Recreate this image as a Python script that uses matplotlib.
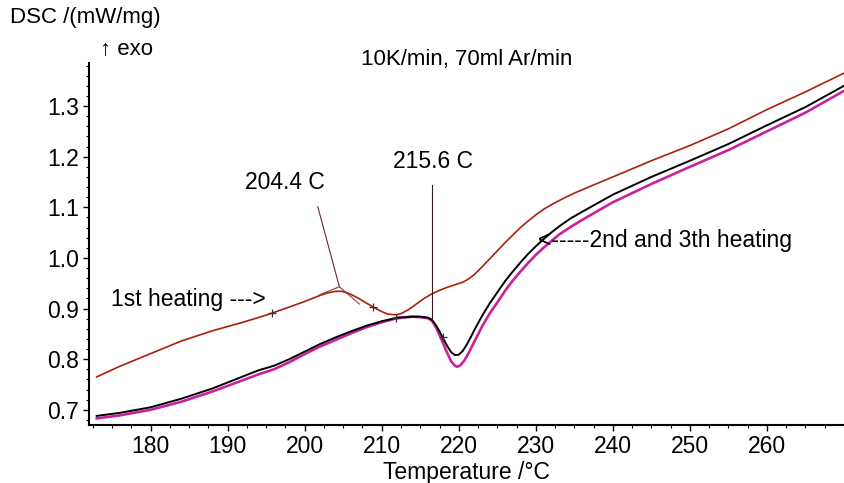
import numpy as np
import matplotlib
matplotlib.use("Agg")
import matplotlib.pyplot as plt
from matplotlib.ticker import MultipleLocator

plt.rcParams["font.family"] = ["Liberation Sans", "DejaVu Sans"]

# 1st heating (red)
t1 = [173, 176, 180, 184, 188, 192, 195, 198, 200, 201, 202, 203, 204, 204.8,
      205.5, 206, 207, 208, 209, 210, 210.8, 211.5, 212, 212.5, 213.5, 214.5,
      215.5, 216.5, 217.5, 218.5, 219.5, 220.5, 221, 221.5, 222, 223, 224, 225,
      226, 227, 228, 229, 230, 231, 232, 233.5, 235, 237, 240, 245, 250, 255,
      260, 265, 270]
dsc1 = [0.765, 0.786, 0.811, 0.836, 0.856, 0.873, 0.887, 0.903, 0.914, 0.920,
        0.926, 0.931, 0.934, 0.934, 0.931, 0.928, 0.920, 0.911, 0.902, 0.894,
        0.889, 0.888, 0.888, 0.890, 0.898, 0.909, 0.920, 0.929, 0.936, 0.942,
        0.947, 0.952, 0.956, 0.961, 0.967, 0.982, 0.998, 1.014, 1.030, 1.045,
        1.060, 1.073, 1.085, 1.096, 1.105, 1.117, 1.128, 1.141, 1.160, 1.192,
        1.222, 1.255, 1.293, 1.328, 1.365]

# 2nd heating (black)
t2 = [173, 176, 180, 184, 188, 191, 194, 196, 198, 200, 202, 204, 206, 208,
      210, 212, 214, 215, 216, 216.5, 217, 217.5, 218, 218.5, 219, 219.5, 220,
      220.5, 221, 221.5, 222, 223, 224, 225, 226, 227, 228, 229, 230, 231, 232,
      233, 234.5, 236, 240, 245, 250, 255, 260, 265, 270]
dsc2 = [0.688, 0.694, 0.705, 0.722, 0.742, 0.760, 0.778, 0.787, 0.800, 0.815,
        0.830, 0.843, 0.855, 0.866, 0.875, 0.882, 0.884, 0.884, 0.882, 0.878,
        0.868, 0.855, 0.840, 0.826, 0.814, 0.808, 0.809, 0.816, 0.828, 0.842,
        0.857, 0.885, 0.910, 0.932, 0.954, 0.973, 0.991, 1.008, 1.023, 1.037,
        1.050, 1.062, 1.078, 1.091, 1.125, 1.160, 1.192, 1.225, 1.262, 1.298,
        1.340]

# 3rd heating (magenta)
t3 = [173, 176, 180, 184, 188, 191, 194, 196, 198, 200, 202, 204, 206, 208,
      210, 212, 214, 215, 216, 216.5, 217, 217.5, 218, 218.5, 219, 219.5, 219.8,
      220.2, 220.7, 221.2, 221.7, 222.2, 223, 224, 225, 226, 227, 228, 229, 230,
      231, 232, 233, 234.5, 236, 240, 245, 250, 255, 260, 265, 270]
dsc3 = [0.683, 0.689, 0.700, 0.716, 0.736, 0.753, 0.770, 0.780, 0.794, 0.810,
        0.825, 0.838, 0.851, 0.863, 0.873, 0.881, 0.884, 0.883, 0.881, 0.876,
        0.864, 0.848, 0.830, 0.812, 0.796, 0.787, 0.785, 0.788, 0.797, 0.810,
        0.825, 0.840, 0.864, 0.890, 0.912, 0.935, 0.955, 0.973, 0.990, 1.006,
        1.020, 1.033, 1.046, 1.061, 1.075, 1.110, 1.146, 1.180, 1.213, 1.250,
        1.287, 1.330]

# small "+" evaluation markers
marks1 = [195.7, 208.8]
marks2 = [211.9, 217.9]

onset1 = 204.4
onset2 = 216.5

fig = plt.figure(figsize=(8.44, 4.83), dpi=100)
ax = fig.add_axes([89 / 844, 58 / 483, 1 - 89 / 844, (425 - 63) / 483])

ax.plot(t3, dsc3, color="#c8239f", lw=1.9, zorder=2)
ax.plot(t2, dsc2, color="black", lw=1.4, zorder=3)
ax.plot(t1, dsc1, color="#a8200e", lw=1.2, zorder=4)

ax.plot(marks1, np.interp(marks1, t1, dsc1), "+", color="#333333", ms=6, mew=0.9, zorder=5)
ax.plot(marks2, np.interp(marks2, t2, dsc2), "+", color="#333333", ms=6, mew=0.9, zorder=5)

# tangent construction at 204.4 C
apex = (204.5, 0.943)
ax.plot([201.9, apex[0], 207.1], [0.927, apex[1], 0.909], color="#8a4040", lw=0.8, zorder=5)
ax.plot([apex[0], 201.7], [apex[1], 1.101], color="#6a2a2a", lw=0.8, zorder=5)
ax.text(197.4, 1.148, "204.4 C", fontsize=16.5, ha="center", va="center")

# 215.6 C marker line
ax.plot([onset2, onset2], [np.interp(onset2, t2, dsc2), 1.144], color="#3a1a1a", lw=0.8, zorder=5)
ax.text(216.6, 1.19, "215.6 C", fontsize=16.5, ha="center", va="center")

ax.text(174.8, 0.917, "1st heating --->", fontsize=16.5, ha="left", va="center")
ax.text(230.3, 1.034, "<-----2nd and 3th heating", fontsize=16.5, ha="left", va="center")

ax.set_xlim(172, 270)
ax.set_ylim(0.67, 1.385)
ax.xaxis.set_minor_locator(MultipleLocator(2.5))
ax.yaxis.set_minor_locator(MultipleLocator(0.02))
ax.set_xticks(np.arange(180, 270, 10))
ax.set_yticks(np.arange(0.7, 1.31, 0.1))
ax.yaxis.set_major_formatter(matplotlib.ticker.FormatStrFormatter("%.1f"))
ax.tick_params(which="major", direction="out", length=4, width=1, labelsize=16.5, pad=3)
ax.tick_params(which="minor", direction="out", length=2.5, width=0.8)
for s in ["top", "right"]:
    ax.spines[s].set_visible(False)
for s in ["left", "bottom"]:
    ax.spines[s].set_linewidth(1.5)

ax.set_xlabel("Temperature /°C", fontsize=16.5, labelpad=2)

fig.text(467 / 844, 1 - 60 / 483, "10K/min, 70ml Ar/min", fontsize=16, ha="center", va="center")
fig.text(10 / 844, 1 - 18 / 483, "DSC /(mW/mg)", fontsize=16, ha="left", va="center")
fig.text(100 / 844, 1 - 50 / 483, "\u2191 exo", fontsize=16, ha="left", va="center")

fig.savefig("out.png", dpi=100)
